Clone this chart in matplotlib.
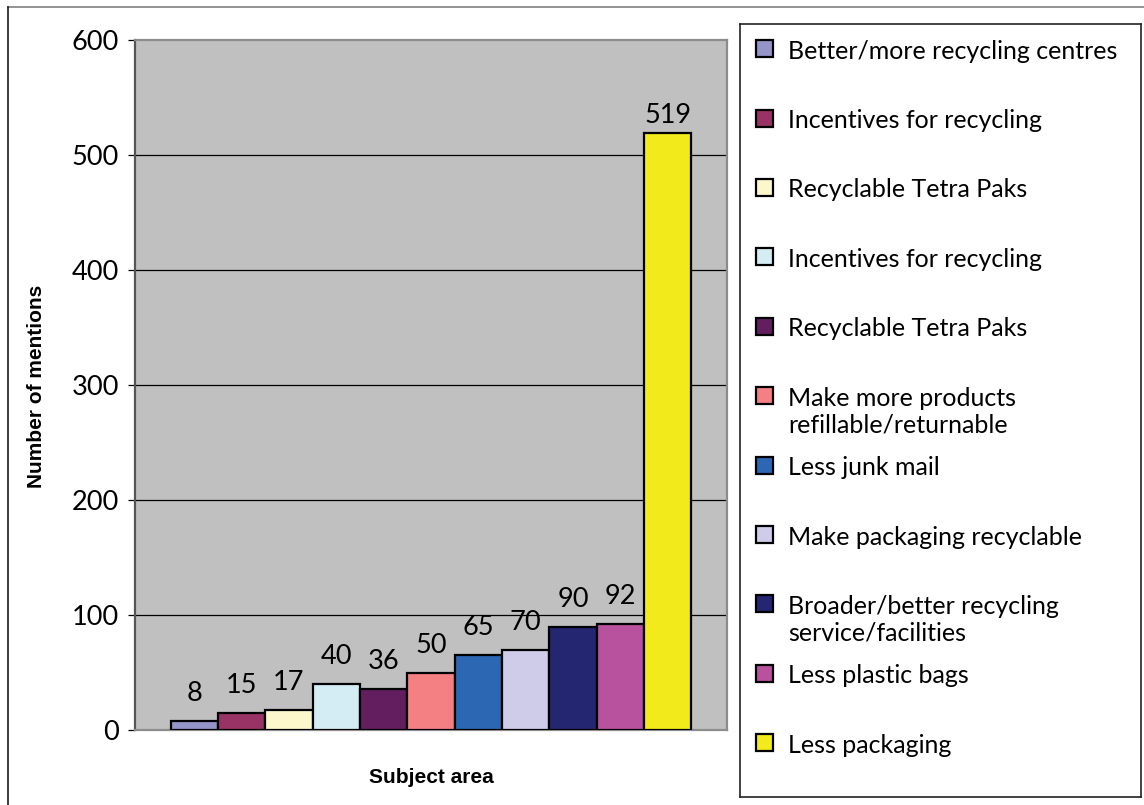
import matplotlib
matplotlib.use("Agg")
import matplotlib.pyplot as plt
from matplotlib.lines import Line2D
from matplotlib.patches import Rectangle

W, H = 1144, 805

subjects = [
    "Better/more recycling centres",
    "Incentives for recycling",
    "Recyclable Tetra Paks",
    "Incentives for recycling",
    "Recyclable Tetra Paks",
    "Make more products\nrefillable/returnable",
    "Less junk mail",
    "Make packaging recyclable",
    "Broader/better recycling\nservice/facilities",
    "Less plastic bags",
    "Less packaging",
]
mentions = [8, 15, 17, 40, 36, 50, 65, 70, 90, 92, 519]
colors = [
    "#9494c8", "#993366", "#fcf8cc", "#d4ecf4", "#631e60", "#f48084",
    "#2b67b3", "#cecce8", "#252671", "#b8519e", "#f2ea1a",
]
yticks = [0, 100, 200, 300, 400, 500, 600]

plt.rcParams["font.family"] = ["Lato", "DejaVu Sans"]

fig = plt.figure(figsize=(W / 100, H / 100), dpi=100)


def px(x0, y0, x1, y1):
    # pixel box (top-left origin) -> figure fraction rect
    return [x0 / W, 1 - y1 / H, (x1 - x0) / W, (y1 - y0) / H]


# main plot area
ax = fig.add_axes(px(135, 40, 727, 730))
ax.set_facecolor("#c0c0c0")
xs = list(range(len(mentions)))
ax.bar(xs, mentions, width=1.0, color=colors, edgecolor="black",
       linewidth=1.6, zorder=3)
gap = 0.75  # empty space either side of the bar group, in bar widths
ax.set_xlim(-0.5 - gap, len(mentions) - 0.5 + gap)
ax.set_ylim(0, 600)
ax.set_yticks(yticks)
ax.set_yticklabels([str(t) for t in yticks])
ax.set_xticks([])
ax.tick_params(axis="y", direction="out", length=5, width=0.9,
               color="black", labelsize=19.5, pad=6.5)
for t in yticks[1:-1]:
    ax.axhline(t, color="black", lw=0.9, zorder=1)
ax.spines["left"].set_color("#555555")
ax.spines["left"].set_linewidth(1.6)
for s in ("top", "right", "bottom"):
    ax.spines[s].set_color("#8c8c8c")
    ax.spines[s].set_linewidth(1.6)

top = max(mentions)
for x, v in zip(xs, mentions):
    off = 10 if v == top else 20
    ax.annotate(str(v), (x, v), xytext=(0, off), textcoords="offset pixels",
                ha="center", va="baseline", fontsize=19.5, zorder=4)

fig.text(37 / W, 1 - 386 / H, "Number of mentions", rotation=90,
         ha="center", va="center", fontsize=15, fontweight="bold",
         family="Liberation Sans")
fig.text(431 / W, 1 - 777 / H, "Subject area", ha="center", va="center",
         fontsize=15, fontweight="bold", family="Liberation Sans")

# legend box, drawn in pixel units
lax = fig.add_axes(px(740, 24, 1141, 797))
lax.set_xlim(740, 1141)
lax.set_ylim(797, 24)
lax.set_xticks([])
lax.set_yticks([])
lax.set_facecolor("white")
for s in lax.spines.values():
    s.set_color("#222222")
    s.set_linewidth(1.2)
for i, (lab, c) in enumerate(zip(subjects, colors)):
    yc = 48.7 + i * 69.4
    lax.add_patch(Rectangle((756, yc - 8.5), 17, 17, facecolor=c,
                            edgecolor="black", linewidth=1.6))
    for j, line in enumerate(lab.split("\n")):
        lax.text(788, yc + 10 + j * 27, line, ha="left", va="baseline",
                 fontsize=18)

# outer frame
fig.add_artist(Line2D([8 / W, 1], [1 - 7 / H, 1 - 7 / H],
                      transform=fig.transFigure, color="#808080", lw=1.2))
fig.add_artist(Line2D([8 / W, 8 / W], [0, 1 - 7 / H],
                      transform=fig.transFigure, color="#1a1a1a", lw=1.2))

fig.savefig("out.png", dpi=100)
